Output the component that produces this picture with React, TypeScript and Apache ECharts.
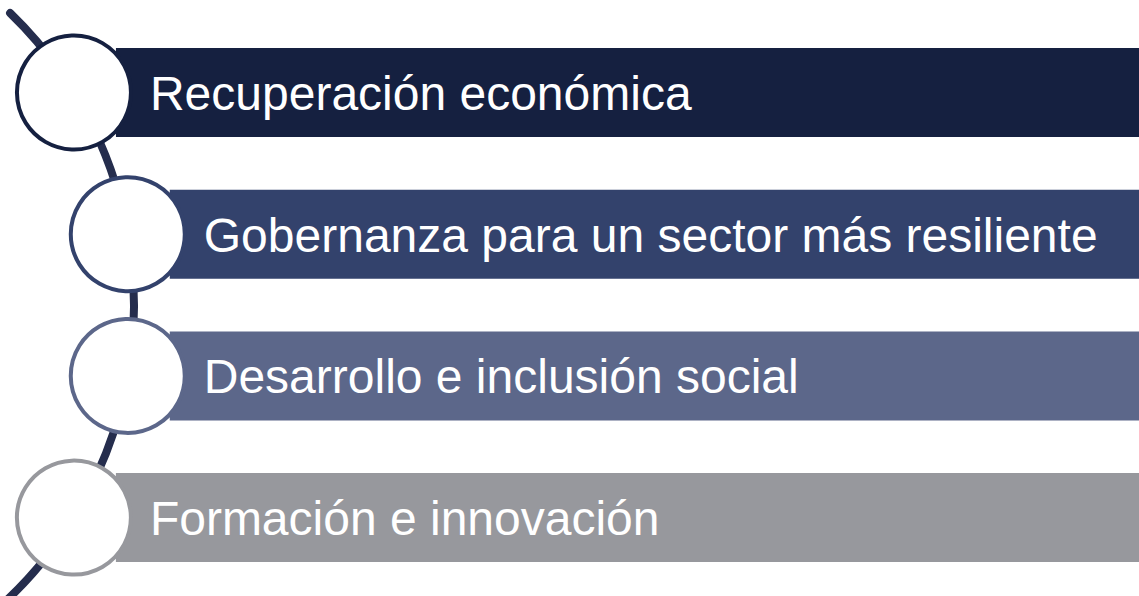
import React, { useEffect, useRef } from "react";
import * as echarts from "echarts";

const labels = [
  "Recuperación económica",
  "Gobernanza para un sector más resiliente",
  "Desarrollo e inclusión social",
  "Formación e innovación",
];
const barColors = ["#152040", "#33426c", "#5c678a", "#97989d"];
const lineColor = "#252d4d";

export default function App() {
  const ref = useRef<HTMLDivElement>(null);
  useEffect(() => {
    if (!ref.current) return;
    const chart = echarts.init(ref.current, undefined, { renderer: "svg" });
    const W = 1139;
    const arcCx = -272;
    const arcCy = 305;
    const R = 406;
    const barTop0 = 48;
    const pitch = 141.7;
    const barH = 89;
    const circleR = 57;
    const elements: any[] = [];
    elements.push({
      type: "arc",
      shape: {
        cx: arcCx,
        cy: arcCy,
        r: R,
        startAngle: Math.asin((13 - arcCy) / R),
        endAngle: Math.asin((600 - arcCy) / R),
        clockwise: true,
      },
      style: { stroke: lineColor, lineWidth: 8, lineCap: "round", fill: "none" },
      z: 1,
    });
    labels.forEach((lab, i) => {
      const top = barTop0 + i * pitch;
      const cy = top + barH / 2;
      const cx = arcCx + Math.sqrt(R * R - (cy - arcCy) * (cy - arcCy));
      elements.push({
        type: "rect",
        shape: { x: cx + 42, y: top, width: W - cx - 42, height: barH },
        style: { fill: barColors[i] },
        z: 2,
      });
      elements.push({
        type: "circle",
        shape: { cx, cy, r: circleR },
        style: { fill: "#ffffff", stroke: barColors[i], lineWidth: 4 },
        z: 3,
      });
      elements.push({
        type: "text",
        x: cx + 76,
        y: cy + 1,
        style: {
          text: lab,
          fill: "#ffffff",
          font: "48px 'Liberation Sans', Arial, sans-serif",
          textAlign: "left",
          textVerticalAlign: "middle",
        },
        z: 4,
      });
    });
    chart.setOption({
      animation: false,
      backgroundColor: "#ffffff",
      graphic: { elements },
    });
    return () => chart.dispose();
  }, []);
  return <div ref={ref} style={{ position: "fixed", left: 0, top: 0, width: 1139, height: 596 }} />;
}
